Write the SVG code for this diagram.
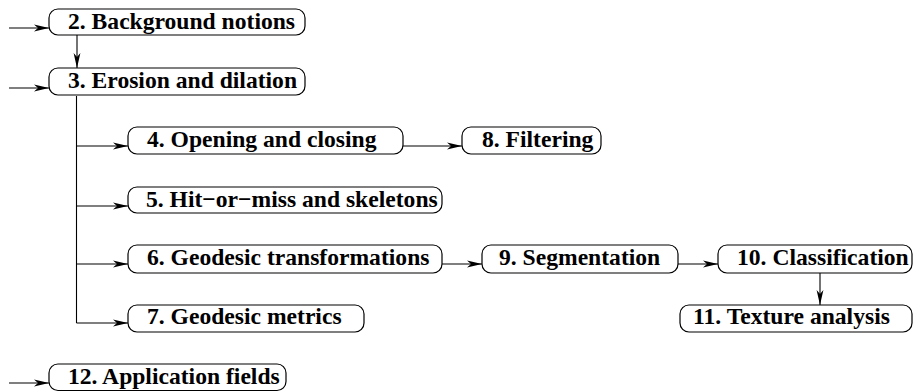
<svg xmlns="http://www.w3.org/2000/svg" width="915" height="392" viewBox="0 0 915 392">
<style>
.box{fill:#fff;stroke:#000;stroke-width:1.2}
.lbl{font-family:"Liberation Serif","Times New Roman",serif;font-weight:bold;font-size:23.6px;fill:#000}
.con{fill:none;stroke:#000;stroke-width:1.1}
</style>
<defs>
<marker id="ah" markerUnits="userSpaceOnUse" markerWidth="16" markerHeight="8" refX="15" refY="4" orient="auto">
<path d="M0,0.6 L15,4 L0,7.4 L4,4 Z" fill="#000"/>
</marker>
</defs>
<rect width="915" height="392" fill="#fff"/>
<g id="connectors">
<path class="con" d="M9,28 H49" marker-end="url(#ah)"/>
<path class="con" d="M9,88 H49" marker-end="url(#ah)"/>
<path class="con" d="M9,383 H49" marker-end="url(#ah)"/>
<path class="con" d="M77,35 V68" marker-end="url(#ah)"/>
<path class="con" d="M76.5,96 V323"/>
<path class="con" d="M76.5,146 H128" marker-end="url(#ah)"/>
<path class="con" d="M76.5,206 H128" marker-end="url(#ah)"/>
<path class="con" d="M76.5,264 H128" marker-end="url(#ah)"/>
<path class="con" d="M76.5,323 H128" marker-end="url(#ah)"/>
<path class="con" d="M403,146 H462" marker-end="url(#ah)"/>
<path class="con" d="M442,264 H482" marker-end="url(#ah)"/>
<path class="con" d="M678,264 H718" marker-end="url(#ah)"/>
<path class="con" d="M820,273 V305" marker-end="url(#ah)"/>
</g>
<g id="n2"><rect class="box" x="49" y="9" width="256" height="26" rx="9"/><text class="lbl" x="68" y="29">2. Background notions</text></g>
<g id="n3"><rect class="box" x="49" y="68" width="256" height="27" rx="9"/><text class="lbl" x="68" y="88">3. Erosion and dilation</text></g>
<g id="n4"><rect class="box" x="128" y="127" width="275" height="27" rx="9"/><text class="lbl" x="147" y="147">4. Opening and closing</text></g>
<g id="n8"><rect class="box" x="462" y="127" width="139" height="27" rx="9"/><text class="lbl" x="482" y="147">8. Filtering</text></g>
<g id="n5"><rect class="box" x="128" y="187" width="314" height="26" rx="9"/><text class="lbl" x="146" y="207">5. Hit−or−miss and skeletons</text></g>
<g id="n6"><rect class="box" x="128" y="245" width="314" height="28" rx="9"/><text class="lbl" x="147" y="265">6. Geodesic transformations</text></g>
<g id="n9"><rect class="box" x="482" y="245" width="196" height="28" rx="9"/><text class="lbl" x="499" y="265">9. Segmentation</text></g>
<g id="n10"><rect class="box" x="718" y="245" width="194" height="28" rx="9"/><text class="lbl" x="737" y="265">10. Classification</text></g>
<g id="n7"><rect class="box" x="128" y="305" width="236" height="27" rx="9"/><text class="lbl" x="147" y="324">7. Geodesic metrics</text></g>
<g id="n11"><rect class="box" x="680" y="305" width="232" height="27" rx="9"/><text class="lbl" x="693" y="324">11. Texture analysis</text></g>
<g id="n12"><rect class="box" x="49" y="364" width="237" height="26.5" rx="9"/><text class="lbl" x="68" y="384">12. Application fields</text></g>
</svg>
